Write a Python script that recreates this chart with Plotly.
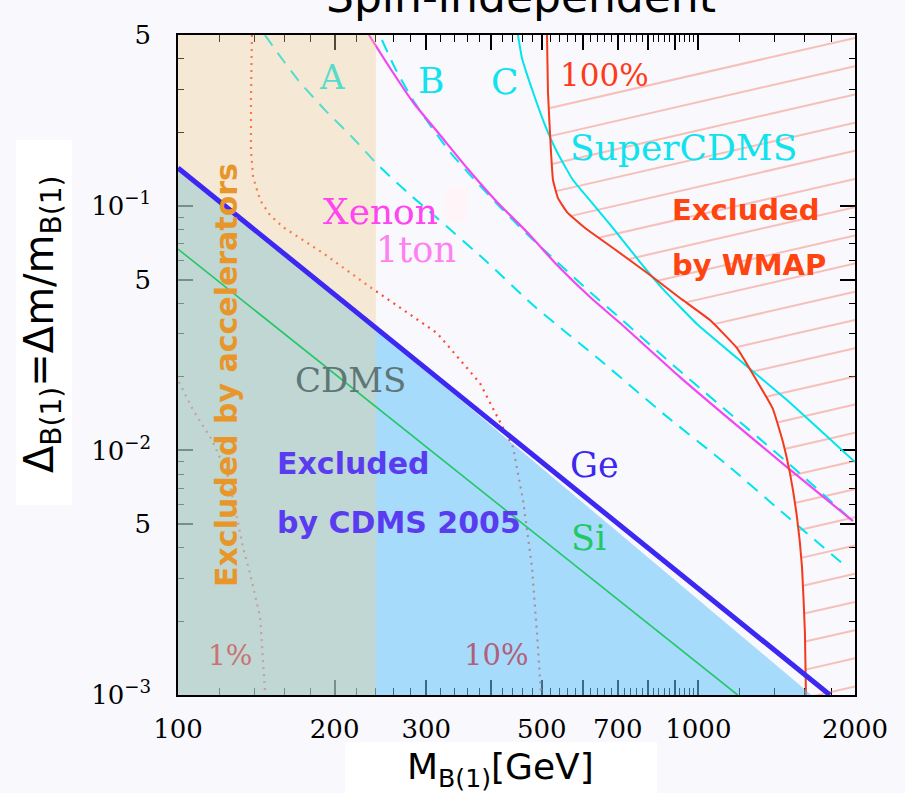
import numpy as np
import plotly.graph_objects as go

# ---------------- data (mass in GeV, Delta = dm/m) ----------------
ACCEL_LIMIT = 240.0                       # excluded by accelerators below this mass

GE_X = [100, 1790]                        # CDMS 2005 Ge limit
GE_Y = [0.143, 0.001]
CDMS_FILL_X = [100, 250, 1650]            # edge of the shaded CDMS-excluded region
CDMS_FILL_Y = [0.143, 0.0293, 0.001]
SI_X = [100, 1190]                        # CDMS Si limit
SI_Y = [0.0666, 0.001]

XENON_X = [232.8, 255.5, 282.8, 318.8, 359.3, 410.2, 468.4, 535.1, 619.0, 707.0, 921.8, 1480, 1982]
XENON_Y = [0.5, 0.3664, 0.2661, 0.1950, 0.1429, 0.1038, 0.0782, 0.0573, 0.0424, 0.0332, 0.01996, 0.00855, 0.00514]

A_X = [146.9, 155.0, 170.1, 191.7, 216.0, 242.3, 275.4, 314.6, 392.5, 481.0, 647.1, 862.9, 1124.7, 1447.6, 1888]
A_Y = [0.5, 0.4259, 0.3272, 0.2466, 0.1913, 0.1470, 0.1140, 0.08922, 0.05897, 0.03933, 0.02342, 0.01395, 0.008882, 0.005598, 0.003463]

B_X = [246.6, 261.2, 282.8, 305.0, 333.2, 368.8, 415.7, 468.4, 535.1, 619.0, 707.0, 921.8, 1480, 1982]
B_Y = [0.4769, 0.3664, 0.2711, 0.2142, 0.1661, 0.1300, 0.0990, 0.07676, 0.05897, 0.04444, 0.03479, 0.02112, 0.008965, 0.00514]

C_X = [450.1, 458.2, 481.0, 507.3, 535.1, 574.1, 627.4, 685.5, 772.5, 855.0, 993.8, 1186.6, 1480, 1713, 2000]
C_Y = [0.5, 0.4026, 0.2922, 0.2142, 0.1661, 0.1276, 0.1018, 0.0812, 0.05897, 0.04571, 0.03289, 0.02387, 0.01608, 0.01212, 0.008965]

WMAP_X = [511.8, 514.0, 521.0, 525.6, 537.3, 559.1, 605.6, 685.5, 807.4, 921.8, 1052.7, 1186.6, 1296.3,
          1391.1, 1454.0, 1499.7, 1547.0, 1582.0, 1602.5, 1609.8]
WMAP_Y = [0.5, 0.2922, 0.1661, 0.1276, 0.1077, 0.09441, 0.0812, 0.06727, 0.05217, 0.0420, 0.03414, 0.02622,
          0.01922, 0.01477, 0.01082, 0.008082, 0.005339, 0.003335, 0.001792, 0.000999]

TEN_X = [138.7, 138.1, 138.1, 139.4, 143.8, 150.2, 159.1, 189.9, 233.9, 314.6, 380.4, 421.2, 440.3, 460.3,
         478.9, 489.6, 496.2, 498.4]
TEN_Y = [0.5, 0.2711, 0.1693, 0.1312, 0.1057, 0.0918, 0.08195, 0.06418, 0.04659, 0.03021, 0.01886, 0.01246,
         0.01032, 0.006267, 0.003335, 0.001792, 0.001151, 0.001018]

ONE_X = [100.4, 106.9, 116.2, 124.2, 128.6, 133.3, 137.5, 143.8, 146.9]
ONE_Y = [0.01904, 0.01463, 0.01103, 0.008082, 0.005867, 0.004025, 0.003151, 0.002083, 0.001047]

X_TICKS = [100, 200, 300, 400, 500, 600, 700, 800, 900, 1000, 2000]
X_TICK_TEXT = ["100", "200", "300", "", "500", "", "700", "", "", "1000", "2000"]
Y_TICKS = [0.001, 0.005, 0.01, 0.05, 0.1, 0.5]
Y_TICK_TEXT = ["10<sup>\u22123</sup>", "5", "10<sup>\u22122</sup>", "5", "10<sup>\u22121</sup>", "5"]

# hatch pattern of the WMAP-excluded region (decoration)
HATCH_SLOPE = 0.488
HATCH_STEP = 0.1153
HATCH_TOP = 0.486

# ---------------- figure ----------------
XMIN, XMAX = 100, 2000
YMIN, YMAX = 0.001, 0.5
L, R, T, B = 178, 855, 35, 695
FW, FH = 905, 793
BG = "#F8F8FD"


def P(px, py):
    return dict(x=(px - L) / (R - L), y=(B - py) / (B - T), xref="paper", yref="paper")


fig = go.Figure()

# hatch lines right of the WMAP curve
lx_r = np.log10(WMAP_X)
ly_r = np.log10(WMAP_Y)
order = np.argsort(ly_r)
lxmax = np.log10(XMAX)
grid = np.linspace(lx_r.min() - 0.01, lxmax, 3000)
hx, hy = [], []
for k in range(26):
    c = np.log10(HATCH_TOP) - k * HATCH_STEP
    ly_line = c + HATCH_SLOPE * (grid - lxmax)
    xr = np.interp(ly_line, ly_r[order], lx_r[order])
    inside = grid >= xr
    if not inside.any():
        continue
    x0 = grid[np.argmax(inside)]
    hx += [10 ** x0, XMAX, None]
    hy += [10 ** (c + HATCH_SLOPE * (x0 - lxmax)), 10 ** c, None]
fig.add_trace(go.Scatter(x=hx, y=hy, mode="lines", line=dict(color="rgba(245,130,110,0.48)", width=2),
                         hoverinfo="skip", showlegend=False))

dot = dict(color="#FF4A2A", width=2.2, dash="2px,5px")
fig.add_trace(go.Scatter(x=ONE_X, y=ONE_Y, mode="lines", line=dot, showlegend=False))
fig.add_trace(go.Scatter(x=TEN_X, y=TEN_Y, mode="lines", line=dot, showlegend=False))

SM = 0.6
dash = dict(color="#00E4EE", width=2, dash="13px,9px", shape="spline", smoothing=SM)
fig.add_trace(go.Scatter(x=A_X, y=A_Y, mode="lines", line=dash, showlegend=False))
fig.add_trace(go.Scatter(x=B_X, y=B_Y, mode="lines", line=dash, showlegend=False))
fig.add_trace(go.Scatter(x=C_X, y=C_Y, mode="lines",
                         line=dict(color="#00E4EE", width=2, shape="spline", smoothing=0.35), showlegend=False))
fig.add_trace(go.Scatter(x=XENON_X, y=XENON_Y, mode="lines",
                         line=dict(color="#F048F0", width=2.2, shape="spline", smoothing=SM), showlegend=False))
fig.add_trace(go.Scatter(x=WMAP_X, y=WMAP_Y, mode="lines",
                         line=dict(color="#F43A1C", width=2, shape="spline", smoothing=0.35), showlegend=False))

# shaded regions
fig.add_trace(go.Scatter(x=[XMIN] + CDMS_FILL_X, y=[YMIN] + CDMS_FILL_Y, mode="lines", fill="toself",
                         fillcolor="rgba(100,195,250,0.55)", line=dict(width=0), showlegend=False))
fig.add_trace(go.Scatter(x=[XMIN, ACCEL_LIMIT, ACCEL_LIMIT, XMIN], y=[YMIN, YMIN, YMAX, YMAX], mode="lines",
                         fill="toself", fillcolor="rgba(242,208,143,0.354)", line=dict(width=0), showlegend=False))

fig.add_trace(go.Scatter(x=SI_X, y=SI_Y, mode="lines", line=dict(color="#22C866", width=1.6), showlegend=False))
fig.add_trace(go.Scatter(x=GE_X, y=GE_Y, mode="lines", line=dict(color="#3C28F0", width=5), showlegend=False))

serif = "DejaVu Serif"
sans_b = "DejaVu Sans"


def label(px, py, text, color, size, family=serif, xanchor="center", angle=0, bold=False):
    t = f"<b>{text}</b>" if bold else text
    fig.add_annotation(**P(px, py), text=t, showarrow=False, xanchor=xanchor, yanchor="middle",
                       textangle=angle, font=dict(family=family, size=size, color=color))


label(332, 77, "A", "#58DCC8", 34)
label(431, 80, "B", "#10E2EE", 36)
label(505, 82, "C", "#10E2EE", 36)
label(604, 75, "100%", "#FF3A1A", 31)
label(683, 147, "SuperCDMS", "#10E2EE", 36)
label(380, 211, "Xenon", "#FF44F0", 36)
label(416, 250, "1ton", "#FF80F0", 35)
label(350, 380, "CDMS", "#5E7676", 34)
label(594, 465, "Ge", "#3C28F0", 35)
label(588, 538, "Si", "#22C866", 35)
label(230, 655, "1%", "#C87474", 28)
label(496, 655, "10%", "#B0607A", 29)
label(670, 210, "Excluded", "#FF4410", 29, family=sans_b, xanchor="left", bold=True)
label(670, 265, "by WMAP", "#FF4410", 29, family=sans_b, xanchor="left", bold=True)
label(275, 463, "Excluded", "#5A3CF0", 30, family=sans_b, xanchor="left", bold=True)
label(275, 522, "by CDMS 2005", "#5A3CF0", 30, family=sans_b, xanchor="left", bold=True)
label(226, 375, "Excluded by accelerators", "#E8962A", 30, family=sans_b, angle=-90, bold=True)

# title (cut off at the top of the slide) and axis titles
label(521, -3, "Spin-independent", "black", 44, family="DejaVu Sans")
label(500, 770, "M<sub>B(1)</sub>[GeV]", "black", 36, family="DejaVu Sans")
label(42, 325, "\u0394<sub>B(1)</sub>=\u0394m/m<sub>B(1)</sub>", "black", 40, family="DejaVu Sans", angle=-90)


def rect_px(x0, y0, x1, y1, color):
    a = P(x0, y0)
    b = P(x1, y1)
    fig.add_shape(type="rect", xref="paper", yref="paper", x0=a["x"], y0=a["y"], x1=b["x"], y1=b["y"],
                  fillcolor=color, line=dict(width=0), layer="below")


rect_px(345, 742, 657, 793, "white")
rect_px(16, 140, 72, 505, "white")
rect_px(446, 187, 467, 222, "#FFF4F7")

x_minor = [v for v in range(120, 1000, 20) if v % 100 != 0] + [1200, 1400, 1600, 1800]
y_minor = [m * 10.0 ** e for e in (-3, -2, -1) for m in (2, 3, 4, 6, 7, 8, 9) if m * 10.0 ** e < YMAX]

axis_common = dict(type="log", ticks="inside", ticklen=15, tickwidth=1.5, tickcolor="black",
                   showline=True, linecolor="black", linewidth=1.5, mirror="ticks", showgrid=False,
                   zeroline=False, layer="below traces",
                   tickfont=dict(family=serif, size=26, color="black"))

fig.update_layout(
    width=FW, height=FH,
    margin=dict(l=L, r=FW - R, t=T, b=FH - B, pad=0),
    paper_bgcolor=BG, plot_bgcolor=BG,
    showlegend=False,
    xaxis=dict(range=[np.log10(XMIN), np.log10(XMAX)], tickvals=X_TICKS, ticktext=X_TICK_TEXT,
               minor=dict(tickvals=x_minor, ticks="inside", ticklen=7, tickwidth=1.2, tickcolor="black"),
               ticklabelstandoff=10, **axis_common),
    yaxis=dict(range=[np.log10(YMIN), np.log10(YMAX)], tickvals=Y_TICKS, ticktext=Y_TICK_TEXT,
               minor=dict(tickvals=y_minor, ticks="inside", ticklen=6, tickwidth=1.2, tickcolor="black"),
               ticklabelstandoff=20, **axis_common),
)

fig.write_html("out.html")
